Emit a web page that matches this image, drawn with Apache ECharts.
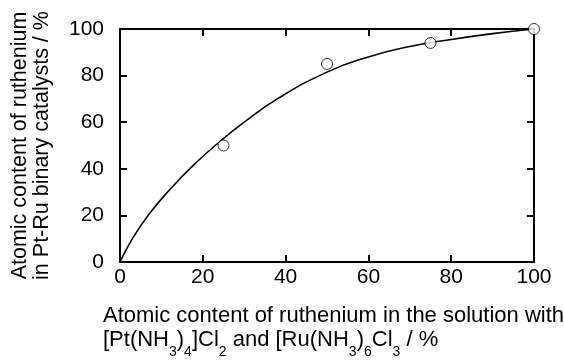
<!DOCTYPE html>
<html>
<head>
<meta charset="utf-8">
<script src="https://cdn.jsdelivr.net/npm/echarts@6/dist/echarts.min.js"></script>
<style>html,body{margin:0;padding:0;background:#fff}#c{width:564px;height:360px}</style>
</head>
<body>
<div id="c"></div>
<script>
// Fitted curve
var curveX = [0, 3, 7, 12, 18, 24, 30, 38, 50, 60, 70, 80, 90, 100];
var curveY = [0, 10, 20.5, 31, 42, 51.5, 60, 70, 81.5, 88, 92.5, 95.5, 98, 100];
// Measured points
var pointX = [25, 50, 75, 100];
var pointY = [50, 85, 94, 100];
var axisTicks = [0, 20, 40, 60, 80, 100];

var FONT = '"Liberation Sans", Arial, sans-serif';
var chart = echarts.init(document.getElementById('c'), null, {renderer: 'canvas'});

function baseAxis(extra) {
  var a = {
    type: 'value', min: axisTicks[0], max: axisTicks[axisTicks.length - 1],
    interval: axisTicks[1] - axisTicks[0],
    axisLine: {show: true, onZero: false, lineStyle: {color: '#000', width: 2}},
    axisTick: {show: true, inside: true, length: 7, lineStyle: {color: '#000', width: 2}},
    splitLine: {show: false},
    axisLabel: {show: false}
  };
  for (var k in extra) a[k] = extra[k];
  return a;
}

var option = {
  animation: false,
  backgroundColor: '#fff',
  grid: {left: 120, right: 27, top: 29, bottom: 98},
  xAxis: [
    baseAxis({
      position: 'bottom',
      axisLabel: {show: true, color: '#000', fontSize: 21, fontFamily: FONT, margin: 5},
      name: '{t|Atomic content of ruthenium in the solution with}\n{t|[Pt(NH}{s|3}{t|)}{s|4}{t|]Cl}{s|2}{t| and [Ru(NH}{s|3}{t|)}{s|6}{t|Cl}{s|3}{t| / %}',
      nameLocation: 'start',
      nameGap: 17,
      nameTextStyle: {
        align: 'left', verticalAlign: 'top', padding: [41, 0, 0, 0],
        rich: {
          t: {fontSize: 22, fontFamily: FONT, color: '#000', lineHeight: 24, verticalAlign: 'bottom'},
          s: {fontSize: 14, fontFamily: FONT, color: '#000', lineHeight: 24, verticalAlign: 'bottom', padding: [0, 0, -8, 0]}
        }
      }
    }),
    baseAxis({position: 'top'})
  ],
  yAxis: [
    baseAxis({
      position: 'left',
      axisLabel: {show: true, color: '#000', fontSize: 21, fontFamily: FONT, margin: 16},
      name: 'Atomic content of ruthenium\nin Pt-Ru binary catalysts / %',
      nameLocation: 'middle',
      nameRotate: 90,
      nameGap: 67,
      nameTextStyle: {fontSize: 21.5, fontFamily: FONT, color: '#000', lineHeight: 22}
    }),
    baseAxis({position: 'right'})
  ],
  series: [
    {
      type: 'line',
      data: curveX.map(function (x, i) { return [x, curveY[i]]; }),
      smooth: true,
      showSymbol: false,
      symbol: 'none',
      lineStyle: {color: '#000', width: 1.6},
      silent: true,
      z: 2
    },
    {
      type: 'scatter',
      data: pointX.map(function (x, i) { return [x, pointY[i]]; }),
      symbol: 'circle',
      symbolSize: 11,
      itemStyle: {color: '#fff', borderColor: '#000', borderWidth: 1},
      z: 3
    }
  ]
};
chart.setOption(option);
</script>
</body>
</html>
